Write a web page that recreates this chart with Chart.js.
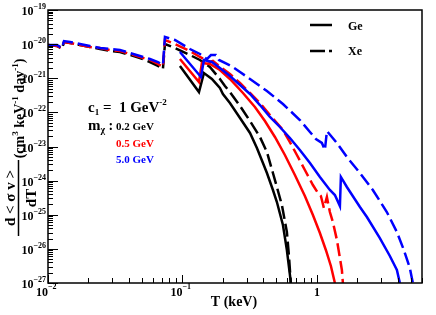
<!DOCTYPE html>
<html>
<head>
<meta charset="utf-8">
<script src="https://cdn.jsdelivr.net/npm/chart.js@4"></script>
<style>
  html, body { margin: 0; padding: 0; background: #fff; }
</style>
</head>
<body>
<canvas id="chart" width="436" height="315"></canvas>
<script>
// recoil energy T (keV) and d<sigma v>/dT (cm^3 keV^-1 day^-1)
const tGe02 = [0.0958,0.1327,0.1445,0.1656,0.190,0.200,0.2255,0.268,0.318,0.358,0.397,0.425,0.471,0.504,0.559,0.598,0.630,0.640];
const vGe02 = [2.29e-21,3.95e-22,1.42e-21,9.51e-22,5.18e-22,3.46e-22,1.88e-22,6.84e-23,2.49e-23,9.04e-24,3.28e-24,1.67e-24,5.31e-25,2.36e-25,5.01e-26,9.27e-27,1.72e-27,1e-27];

const tXe02 = [0.0100,0.01167,0.0127,0.01315,0.01459,0.0173,0.0205,0.0244,0.0289,0.0343,0.0407,0.0483,0.0573,0.0657,0.0716,0.0741,0.0879,0.1137,0.1349,0.160,0.190,0.207,0.2255,0.268,0.318,0.377,0.425,0.471,0.504,0.549,0.598,0.619,0.640];
const vXe02 = [9.43e-21,8.81e-21,7.20e-21,1.15e-20,1.08e-20,9.43e-21,8.24e-21,7.20e-21,6.29e-21,5.88e-21,4.80e-21,3.92e-21,2.99e-21,2.29e-21,1.87e-21,1.01e-20,7.70e-21,4.80e-21,3.43e-21,2.14e-21,9.51e-22,5.93e-22,3.95e-22,1.54e-22,5.59e-23,1.90e-23,6.90e-24,1.67e-24,6.50e-25,1.93e-25,3.12e-26,6.61e-27,1e-27];

const tGe05 = [0.0958,0.1327,0.1396,0.160,0.190,0.2255,0.282,0.346,0.4106,0.4873,0.578,0.686,0.814,0.934,1.053,1.166,1.271,1.361];
const vGe05 = [3.66e-21,7.77e-22,2.80e-21,2.62e-21,1.74e-21,9.51e-22,3.70e-22,1.44e-22,5.59e-23,1.90e-23,5.64e-24,1.46e-24,3.54e-25,9.83e-26,2.92e-26,9.27e-27,3.15e-27,1e-27];

const tXe05 = [0.0100,0.01167,0.0127,0.01315,0.01459,0.0173,0.0205,0.0244,0.0289,0.0343,0.0407,0.0483,0.0573,0.0657,0.0716,0.0741,0.0879,0.1137,0.1349,0.160,0.1685,0.1836,0.2255,0.268,0.318,0.377,0.4475,0.559,0.630,0.710,0.814,0.934,1.017,1.071,1.127,1.187,1.249,1.315,1.409,1.483,1.534,1.561];
const vXe05 = [9.43e-21,8.81e-21,7.70e-21,1.15e-20,1.08e-20,9.43e-21,8.24e-21,7.70e-21,6.73e-21,6.29e-21,5.14e-21,4.20e-21,3.43e-21,2.62e-21,2.14e-21,1.32e-20,1.01e-20,6.29e-21,4.20e-21,2.99e-21,3.20e-21,2.44e-21,1.33e-21,7.26e-22,3.70e-22,1.88e-22,8.38e-23,3.04e-23,1.35e-23,5.64e-24,2.05e-24,7.44e-25,4.34e-25,3.54e-25,1.58e-25,3.31e-25,1.20e-25,6.13e-26,1.82e-26,5.40e-27,2.40e-27,1e-27];

const tGe50 = [0.0958,0.1373,0.1445,0.1656,0.190,0.2255,0.268,0.318,0.377,0.4475,0.531,0.630,0.747,0.888,1.053,1.249,1.361,1.483,1.508,1.671,2.090,2.355,2.939,3.489,3.935,4.142];
const vGe50 = [5.88e-21,1.09e-21,3.43e-21,2.99e-21,2.00e-21,1.16e-21,6.34e-22,3.46e-22,1.64e-22,7.32e-23,3.73e-23,1.77e-23,7.89e-24,3.28e-24,1.28e-24,5.31e-25,3.79e-25,1.80e-25,1.28e-24,6.50e-25,1.69e-25,8.59e-26,2.08e-26,6.18e-27,2.40e-27,1e-27];

const tXe50 = [0.0100,0.01167,0.0127,0.01315,0.01459,0.0173,0.0205,0.0244,0.0289,0.0343,0.0407,0.0483,0.0573,0.0657,0.0716,0.0741,0.0879,0.1137,0.1349,0.1521,0.1629,0.1774,0.1868,0.2142,0.2372,0.268,0.318,0.425,0.559,0.747,0.888,0.983,1.089,1.147,1.187,1.409,1.671,2.090,2.607,3.313,3.935,4.435,4.913,5.172];
const vXe50 = [9.43e-21,9.43e-21,7.70e-21,1.23e-20,1.15e-20,1.01e-20,8.81e-21,7.70e-21,7.20e-21,6.73e-21,5.49e-21,4.49e-21,3.66e-21,2.99e-21,2.44e-21,1.62e-20,1.32e-20,7.20e-21,5.14e-21,3.66e-21,4.80e-21,4.80e-21,3.43e-21,2.62e-21,2.14e-21,1.52e-21,9.51e-22,4.23e-22,1.76e-22,5.98e-23,2.66e-23,1.66e-23,1.27e-23,7.89e-24,2.84e-23,1.27e-23,4.92e-24,1.67e-24,5.31e-25,1.20e-25,3.12e-26,9.27e-27,2.75e-27,1e-27];

// axis ticks
const xMajor = [0.01, 0.1, 1];
const xMajorLabels = [["10", "\u22122"], ["10", "\u22121"], ["1", ""]];
const yExponents = [-27, -26, -25, -24, -23, -22, -21, -20, -19];
const massLabels = ["0.2 GeV", "0.5 GeV", "5.0 GeV"];

const FONT = '"Liberation Serif", "Times New Roman", serif';
const DASH = [13, 5];

function pts(t, v) {
  return t.map((x, i) => ({ x: x, y: v[i] }));
}

function curve(t, v, color, dashed, order) {
  return {
    data: pts(t, v),
    borderColor: color,
    borderWidth: 2.5,
    borderDash: dashed ? DASH : [],
    pointRadius: 0,
    tension: 0,
    fill: false,
    order: order
  };
}

// draw a run of text pieces: [text, size, yOffset]
function rich(ctx, parts, x, y, color) {
  ctx.fillStyle = color || "#000";
  ctx.textAlign = "left";
  ctx.textBaseline = "alphabetic";
  for (const [txt, size, dy] of parts) {
    ctx.font = "bold " + size + "px " + FONT;
    ctx.fillText(txt, x, y + dy);
    x += ctx.measureText(txt).width;
  }
  return x;
}
function richWidth(ctx, parts) {
  let w = 0;
  for (const [txt, size] of parts) {
    ctx.font = "bold " + size + "px " + FONT;
    w += ctx.measureText(txt).width;
  }
  return w;
}

const decor = {
  id: "decor",
  afterDatasetsDraw(chart) {
    const { ctx, chartArea: a, scales } = chart;
    const xs = scales.x, ys = scales.y;
    ctx.save();

    // frame
    ctx.strokeStyle = "#000";
    ctx.lineWidth = 1.5;
    ctx.setLineDash([]);
    ctx.strokeRect(a.left, a.top, a.right - a.left, a.bottom - a.top);

    // y ticks (inside)
    ctx.lineWidth = 1;
    ctx.beginPath();
    for (const e of yExponents) {
      for (let m = 1; m <= 9; m++) {
        if (e === -19 && m > 1) break;
        const py = Math.round(ys.getPixelForValue(m * Math.pow(10, e))) + 0.5;
        const len = m === 1 ? 10 : 5;
        ctx.moveTo(a.left, py);
        ctx.lineTo(a.left + len, py);
      }
    }
    // x ticks (inside)
    for (let e = -2; e <= 0; e++) {
      for (let m = 1; m <= 9; m++) {
        const v = m * Math.pow(10, e);
        if (v > xs.max) break;
        const px = Math.round(xs.getPixelForValue(v)) + 0.5;
        const len = m === 1 ? 8 : 5;
        ctx.moveTo(px, a.bottom);
        ctx.lineTo(px, a.bottom - len);
      }
    }
    ctx.stroke();

    // y tick labels
    for (const e of yExponents) {
      const py = ys.getPixelForValue(Math.pow(10, e));
      const parts = [["10", 12, 5], ["\u2212" + Math.abs(e), 8, -1]];
      const w = richWidth(ctx, parts);
      rich(ctx, parts, a.left - 2 - w, py);
    }
    // x tick labels
    xMajor.forEach((v, i) => {
      const px = xs.getPixelForValue(v);
      const [base, ex] = xMajorLabels[i];
      ctx.font = "bold 12px " + FONT;
      const bw = ctx.measureText(base).width;
      if (ex) {
        rich(ctx, [[base, 12, 0], [ex, 8, -7]], px - bw, 296);
      } else {
        rich(ctx, [[base, 12, 0]], px - bw / 2, 296);
      }
    });

    // axis titles
    ctx.font = "bold 14px " + FONT;
    const tw = ctx.measureText("T (keV)").width;
    rich(ctx, [["T (keV)", 14, 0]], 234 - tw / 2, 306);

    ctx.save();
    ctx.rotate(-Math.PI / 2);
    // in rotated frame: x_r = -screenY, y_r = screenX
    const num = [["d < \u03c3 v >", 15, 0]];
    const nw = richWidth(ctx, num);
    const fracLo = 236, fracHi = 160;
    const fw = fracLo - fracHi;
    rich(ctx, num, -fracLo + (fw - nw) / 2, 15);
    ctx.lineWidth = 1.5;
    ctx.beginPath();
    ctx.moveTo(-fracLo, 18.5);
    ctx.lineTo(-fracHi, 18.5);
    ctx.stroke();
    const den = [["dT", 15, 0]];
    const dw = richWidth(ctx, den);
    rich(ctx, den, -fracLo + (fw - dw) / 2, 36);
    const units = [["(cm", 14, 0], ["3", 9, -6], [" keV", 14, 0], ["-1", 9, -6], [" day", 14, 0], ["-1", 9, -6], [")", 14, 0]];
    const uw = richWidth(ctx, units);
    rich(ctx, units, -157 + (97 - uw) / 2, 24);
    ctx.restore();

    // annotations
    let x = rich(ctx, [["c", 15, 0], ["1", 9, 3], [" =  1 GeV", 15, 0], ["-2", 9, -7]], 88, 112);
    x = rich(ctx, [["m", 15, 0], ["\u03c7", 10, 3], [" : ", 14, 0]], 88, 130);
    const massColors = ["#000000", "#ff0000", "#0000ff"];
    const massY = [130, 147, 163];
    massLabels.forEach((s, i) => rich(ctx, [[s, 11, 0]], 116, massY[i], massColors[i]));

    // legend
    ctx.strokeStyle = "#000";
    ctx.lineWidth = 2.5;
    ctx.beginPath();
    ctx.moveTo(310, 25); ctx.lineTo(332, 25);
    ctx.stroke();
    ctx.setLineDash([15, 4]);
    ctx.beginPath();
    ctx.moveTo(310, 51); ctx.lineTo(332, 51);
    ctx.stroke();
    ctx.setLineDash([]);
    rich(ctx, [["Ge", 12, 0]], 348, 30);
    rich(ctx, [["Xe", 12, 0]], 348, 55);

    ctx.restore();
  }
};

new Chart(document.getElementById("chart"), {
  type: "line",
  data: {
    datasets: [
      curve(tXe50, vXe50, "#0000ff", true, 1),
      curve(tGe50, vGe50, "#0000ff", false, 2),
      curve(tXe05, vXe05, "#ff0000", true, 3),
      curve(tGe05, vGe05, "#ff0000", false, 4),
      curve(tXe02, vXe02, "#000000", true, 5),
      curve(tGe02, vGe02, "#000000", false, 6)
    ]
  },
  options: {
    responsive: false,
    animation: false,
    layout: { padding: { left: 48, right: 14, top: 10, bottom: 32 } },
    plugins: { legend: { display: false }, tooltip: { enabled: false } },
    scales: {
      x: { type: "logarithmic", min: 0.01, max: 6.05, display: false },
      y: { type: "logarithmic", min: 1e-27, max: 1e-19, display: false }
    }
  },
  plugins: [decor]
});
</script>
</body>
</html>
